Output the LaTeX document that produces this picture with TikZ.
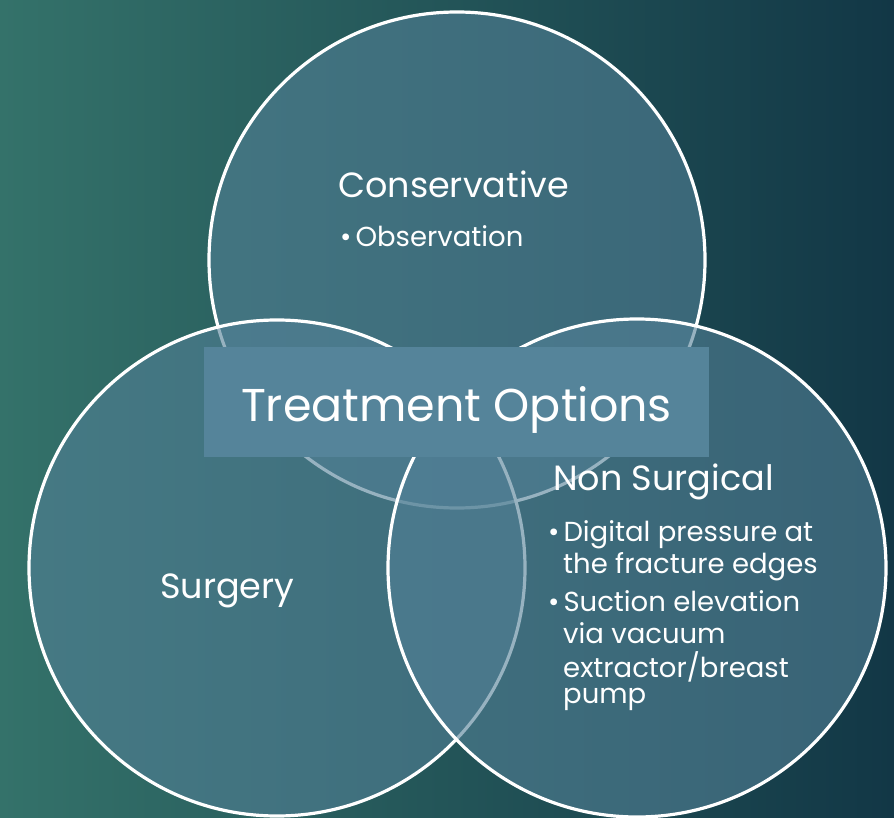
\documentclass[tikz,border=0pt]{standalone}
\usepackage{fontspec}
\setmainfont{Poppins}
\definecolor{bgL}{RGB}{52,114,106}
\definecolor{bgR}{RGB}{18,55,70}
\definecolor{circfill}{RGB}{82,128,150}
\definecolor{rectc}{RGB}{85,132,154}
\newcommand{\bul}{\textbullet\hspace{4pt}}
\begin{document}
\begin{tikzpicture}[x=1pt,y=-1pt,
  circ/.style={draw=white,line width=3.2pt,fill=circfill,fill opacity=0.6},
  head/.style={text=white,anchor=base west,inner sep=0pt,font=\fontsize{35}{35}\selectfont},
  item/.style={text=white,anchor=base west,inner sep=0pt,font=\fontsize{27.5}{27.5}\selectfont},
  title/.style={text=white,anchor=base,inner sep=0pt,font=\fontsize{46}{46}\selectfont}]
\shade[left color=bgL,right color=bgR] (0,0) rectangle (894,818);
\useasboundingbox (0,0) rectangle (894,818);
\path[circ] (457,260) circle[radius=248];
\path[circ] (277,568) circle[radius=248];
\path[circ] (637,568) circle[radius=249];
\node[fill=rectc,minimum width=505pt,minimum height=110pt,inner sep=0pt] (box) at (456.5,402) {};
\node[title] (t) at (456.5,421) {Treatment Options};
\node[head] (cons) at (338,198) {Conservative};
\node[item] (obs) at (340,247) {\bul Observation};
\node[head] (surg) at (160,598) {Surgery};
\node[head] (nons) at (553,490) {Non Surgical};
\node[item] (n1) at (548,541) {\bul Digital pressure at};
\node[item] (n2) at (563,573) {the fracture edges};
\node[item] (n3) at (548,611) {\bul Suction elevation};
\node[item] (n4) at (563,643) {via vacuum};
\node[item] (n5) at (563,677) {extractor/breast};
\node[item] (n6) at (563,703) {pump};
\end{tikzpicture}
\end{document}
